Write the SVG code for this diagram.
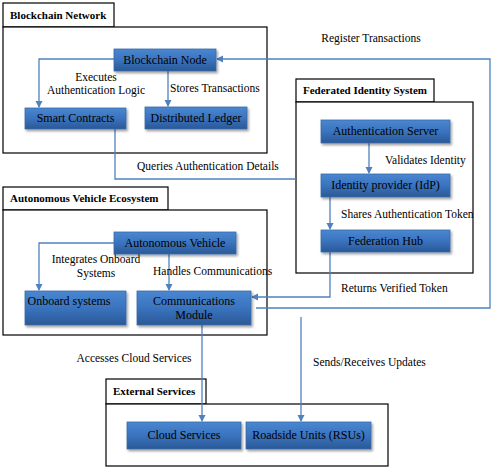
<svg xmlns="http://www.w3.org/2000/svg" width="496" height="469" viewBox="0 0 496 469">
<defs>
<linearGradient id="g" x1="0" y1="0" x2="0" y2="1">
<stop offset="0" stop-color="#4a87d0"/>
<stop offset="0.5" stop-color="#3a73bf"/>
<stop offset="1" stop-color="#2a5996"/>
</linearGradient>
<marker id="ah" markerWidth="8" markerHeight="8" refX="6" refY="4" orient="auto" markerUnits="userSpaceOnUse">
<path d="M0,0.5 L7,4 L0,7.5 Z" fill="#4f81bd"/>
</marker>
<filter id="sh" x="-10%" y="-20%" width="130%" height="160%">
<feDropShadow dx="1.5" dy="2" stdDeviation="1" flood-color="#000" flood-opacity="0.35"/>
</filter>
</defs>
<style>
text{font-family:'Liberation Serif','Times New Roman','DejaVu Serif',serif}
.fr{fill:#fff;stroke:#000;stroke-width:1.2}
.tab{font-weight:bold;font-size:11px;fill:#000}
.bx{fill:url(#g);stroke:#3a6aa8;stroke-width:0.8;filter:url(#sh)}
.bt{font-size:12px;fill:#000;text-anchor:middle}
.lb{font-size:11.5px;fill:#000}
.c{fill:none;stroke:#4f81bd;stroke-width:1.3}
.ca{fill:none;stroke:#4f81bd;stroke-width:1.3;marker-end:url(#ah)}
</style>

<g id="blockchain-network">
<rect class="fr" x="3" y="3" width="111" height="24"/>
<text class="tab" x="10" y="19" font-family="Liberation Serif, serif">Blockchain Network</text>
<rect class="fr" x="3" y="27" width="264" height="126"/>
</g>
<g id="federated-identity-system">
<rect class="fr" x="296" y="79" width="138" height="23"/>
<text class="tab" x="303" y="94" font-family="Liberation Serif, serif">Federated Identity System</text>
<rect class="fr" x="296" y="102" width="177" height="171"/>
</g>
<g id="autonomous-vehicle-ecosystem">
<rect class="fr" x="3" y="187" width="165" height="23"/>
<text class="tab" x="10" y="202" font-family="Liberation Serif, serif">Autonomous Vehicle Ecosystem</text>
<rect class="fr" x="3" y="210" width="264" height="125"/>
</g>
<g id="external-services">
<rect class="fr" x="106" y="379" width="100" height="25"/>
<text class="tab" x="113" y="395" font-family="Liberation Serif, serif">External Services</text>
<rect class="fr" x="106" y="404" width="282" height="62"/>
</g>

<g id="connectors">
<polyline class="ca" points="114,59 39,59 39,107"/>
<polyline class="ca" points="168,71 168,106"/>
<polyline class="c" points="115,129 115,179 296,179"/>
<polyline class="ca" points="369,143 369,173"/>
<polyline class="ca" points="330,197 330,229"/>
<polyline class="ca" points="330,252 330,297 252,297"/>
<polyline class="ca" points="256,308 490,308 490,59 217,59"/>
<polyline class="ca" points="114,243 39,243 39,290"/>
<polyline class="ca" points="169,254 169,290"/>
<polyline class="ca" points="202,325 202,421"/>
<polyline class="ca" points="301,317 301,421"/>
</g>

<g id="connector-labels">
<text class="lb" x="96" y="81" text-anchor="middle">Executes</text>
<text class="lb" x="96" y="94" text-anchor="middle">Authentication Logic</text>
<text class="lb" x="170" y="92">Stores Transactions</text>
<text class="lb" x="371" y="42" text-anchor="middle">Register Transactions</text>
<text class="lb" x="137" y="170">Queries Authentication Details</text>
<text class="lb" x="385" y="164">Validates Identity</text>
<text class="lb" x="341" y="218">Shares Authentication Token</text>
<text class="lb" x="341" y="292">Returns Verified Token</text>
<text class="lb" x="96" y="263" text-anchor="middle">Integrates Onboard</text>
<text class="lb" x="96" y="277" text-anchor="middle">Systems</text>
<text class="lb" x="153" y="275">Handles Communications</text>
<text class="lb" x="134" y="362" text-anchor="middle">Accesses Cloud Services</text>
<text class="lb" x="313" y="366">Sends/Receives Updates</text>
</g>

<g id="blockchain-node">
<rect class="bx" x="114" y="49" width="102" height="22"/>
<text class="bt" x="165" y="64">Blockchain Node</text>
</g>
<g id="smart-contracts">
<rect class="bx" x="25" y="108" width="101" height="21"/>
<text class="bt" x="75.5" y="122">Smart Contracts</text>
</g>
<g id="distributed-ledger">
<rect class="bx" x="145" y="107" width="102" height="22"/>
<text class="bt" x="196" y="122">Distributed Ledger</text>
</g>
<g id="authentication-server">
<rect class="bx" x="321" y="120" width="129" height="23"/>
<text class="bt" x="385.5" y="135">Authentication Server</text>
</g>
<g id="identity-provider">
<rect class="bx" x="321" y="174" width="129" height="23"/>
<text class="bt" x="385.5" y="189">Identity provider (IdP)</text>
</g>
<g id="federation-hub">
<rect class="bx" x="321" y="230" width="129" height="22"/>
<text class="bt" x="385.5" y="245">Federation Hub</text>
</g>
<g id="autonomous-vehicle">
<rect class="bx" x="114" y="232" width="122" height="22"/>
<text class="bt" x="175" y="247">Autonomous Vehicle</text>
</g>
<g id="onboard-systems">
<rect class="bx" x="25" y="291" width="101" height="34"/>
<text class="bt" x="69" y="305">Onboard systems</text>
</g>
<g id="communications-module">
<rect class="bx" x="137" y="291" width="114" height="34"/>
<text class="bt" x="194" y="305">Communications</text>
<text class="bt" x="194" y="319">Module</text>
</g>
<g id="cloud-services">
<rect class="bx" x="127" y="422" width="114" height="27"/>
<text class="bt" x="184" y="439">Cloud Services</text>
</g>
<g id="roadside-units">
<rect class="bx" x="246" y="422" width="125" height="27"/>
<text class="bt" x="308.5" y="439">Roadside Units (RSUs)</text>
</g>
</svg>
